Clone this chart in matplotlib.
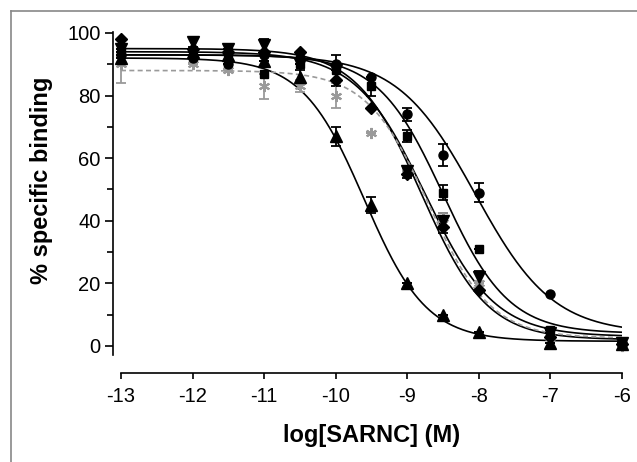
import numpy as np
import matplotlib
matplotlib.use("Agg")
import matplotlib.pyplot as plt
from matplotlib.lines import Line2D
from matplotlib.ticker import MultipleLocator

plt.rcParams['font.family'] = ['Liberation Sans', 'DejaVu Sans']

# log concentrations
log_conc = [-13, -12, -11.5, -11, -10.5, -10, -9.5, -9, -8.5, -8, -7, -6]

nan = np.nan
circle_y = [93, 92, 90, 93, 92, 90, 86, 74, 61, 49, 16.5, 1]
circle_e = [0, 0, 0, 0, 0, 0, 0, 2, 3.5, 3, 0, 0]
square_y = [94, 93, 94, 87, 90, 88, 83, 67, 49, 31, 5, 1]
square_e = [0, 0, 0, 0, 0, 0, 3, 2, 2.5, 0, 0, 0]
diamond_y = [98, 95, 94, 94, 94, 85, 76, 55, 38, 18, 3, 0.5]
diamond_e = [0, 0, 0, 0, 0, 0, 0, 1.5, 2, 0, 0, 0]
down_y = [95, 97, 95, 96, 90, 88, nan, 56, 40, 22, 4, 1]
down_e = [0, 1.5, 0, 2, 0, 5, 0, 0, 2.5, 2, 0, 0]
up_y = [92, 94, 93, 91, 86, 67, 45, 20, 10, 4.5, 1, 0.5]
up_e = [0, 0, 0, 0, 2, 3, 2.5, 0, 0, 0, 0, 0]
star_y = [90, 90, 88, 83, 83, 80, 68, 56, 41, 20, 3, 0]
star_e = [6, 0, 0, 4, 2, 4, 0, 0, 1.5, 0, 0, 0]

# fitted curve parameters: top, bottom, logIC50, hill slope
circle_fit = [93, 4, -8.05, 0.8]
square_fit = [93, 4, -8.5, 0.95]
diamond_fit = [95, 2, -8.8, 0.95]
down_fit = [94, 3, -8.75, 0.9]
up_fit = [92, 1.5, -9.6, 1.0]
star_fit = [88, 2.5, -8.7, 1.0]

x_ticks = [-13, -12, -11, -10, -9, -8, -7, -6]
y_ticks = [0, 20, 40, 60, 80, 100]


def logistic(x, p):
    top, bottom, c, h = p
    return bottom + (top - bottom) / (1 + 10 ** ((x - c) * h))


fig = plt.figure(figsize=(6.37, 4.62), dpi=100)
ax = fig.add_axes([121 / 637, 1 - 355 / 462, (622 - 121) / 637, (355 - 32) / 462])
ax.set_xlim(-13, -6)
ax.set_ylim(-2.9, 100.3)

xx = np.linspace(-13, -6, 400)

series = [
    (circle_y, circle_e, circle_fit, 'o', 6.5, 'black', '-'),
    (square_y, square_e, square_fit, 's', 6, 'black', '-'),
    (diamond_y, diamond_e, diamond_fit, 'D', 6, 'black', '-'),
    (down_y, down_e, down_fit, 'v', 8, 'black', '-'),
    (up_y, up_e, up_fit, '^', 8, 'black', '-'),
]
for y, e, p, m, ms, col, ls in series:
    ax.plot(xx, logistic(xx, p), color=col, lw=1.2, ls=ls, zorder=2)
    ax.errorbar(log_conc, y, yerr=e, fmt=m, ms=ms, color=col, ecolor=col,
                elinewidth=1.3, capsize=3.6, capthick=1.3, clip_on=False, zorder=3)

gray = '#9a9a9a'
ax.plot(xx, logistic(xx, star_fit), color=gray, lw=1.2, ls=(0, (3, 2)), zorder=2)
ax.errorbar(log_conc, star_y, yerr=star_e, fmt='none', ecolor=gray,
            elinewidth=1.3, capsize=3.6, capthick=1.3, clip_on=False, zorder=3)
ax.plot(log_conc, star_y, ls='none', marker=(6, 2, 0), ms=8, mec=gray, mew=1.5,
        clip_on=False, zorder=3)

for s in ['top', 'right']:
    ax.spines[s].set_visible(False)
ax.spines['left'].set_position(('outward', 5.8))
ax.spines['bottom'].set_position(('outward', 13))
for s in ['left', 'bottom']:
    ax.spines[s].set_linewidth(1.2)

ax.set_xticks(x_ticks)
ax.set_xticklabels([str(t) for t in x_ticks])
ax.set_yticks(y_ticks)
ax.set_yticklabels([str(t) for t in y_ticks])
ax.yaxis.set_minor_locator(MultipleLocator(10))
ax.tick_params(axis='y', which='major', length=6, width=1.2, labelsize=14.5, pad=3)
ax.tick_params(axis='y', which='minor', length=4, width=1.2)
ax.tick_params(axis='x', which='major', length=4, width=1.2, labelsize=14.5, pad=6)

ax.set_xlabel('log[SARNC] (M)', fontsize=17, fontweight='bold')
ax.set_ylabel('% specific binding', fontsize=17, fontweight='bold')
ax.xaxis.set_label_coords(0.5, -0.215)
ax.yaxis.set_label_coords(-0.136, 0.542)

# outer frame
fig.add_artist(Line2D([11 / 637, 1.0], [1 - 11 / 462, 1 - 11 / 462], color='#888888', lw=1.2))
fig.add_artist(Line2D([11 / 637, 11 / 637], [0, 1 - 11 / 462], color='#888888', lw=1.2))

fig.savefig('out.png', dpi=100)
